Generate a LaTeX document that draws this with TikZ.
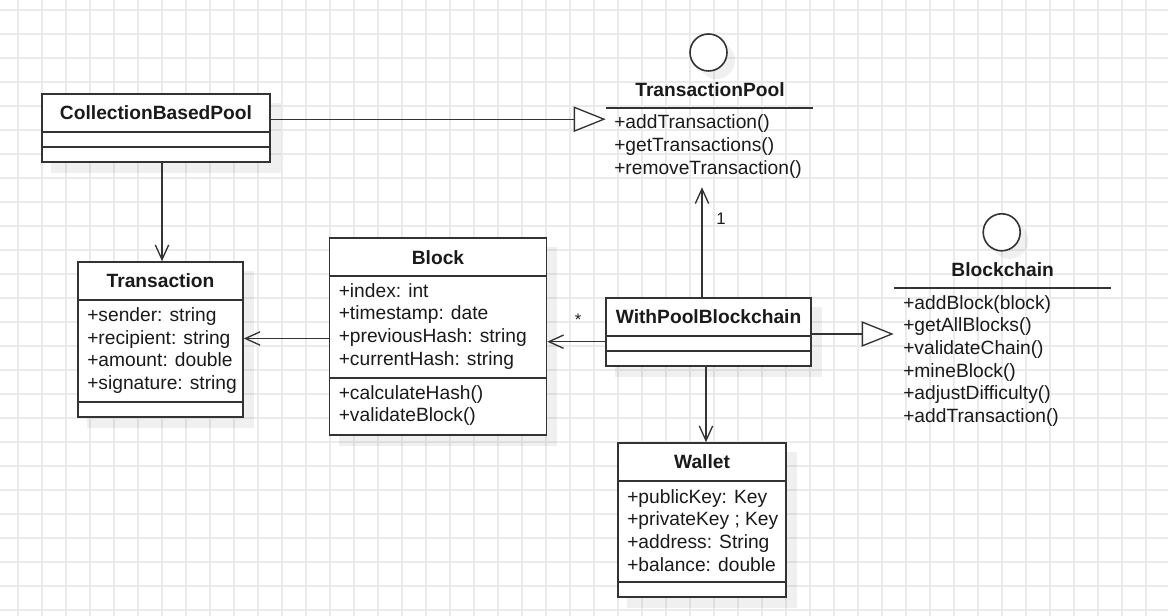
\documentclass[tikz,border=0pt]{standalone}
\usepackage{fontspec}
\setmainfont{Liberation Sans}
\usetikzlibrary{arrows.meta,calc,fit,backgrounds}
\definecolor{gridc}{HTML}{EBEBEB}
\definecolor{linec}{HTML}{333333}
\definecolor{txtc}{HTML}{1A1A1A}
\tikzset{
  cls/.style={draw=linec, line width=1.2pt, fill=white, inner sep=0pt},
  region/.style={inner sep=0pt},
  sep/.style={draw=linec, line width=1.2pt},
  ttl/.style={font=\fontsize{14.4}{17}\selectfont\bfseries, text=txtc, inner sep=0pt},
  attrs/.style={font=\fontsize{14.4}{17}\selectfont, text=txtc, align=left, anchor=west, inner sep=0pt},
  lbl/.style={font=\fontsize{12.5}{15}\selectfont, text=txtc, inner sep=0pt},
  circ/.style={circle, draw=linec, line width=1.2pt, fill=white, minimum size=27.75pt, inner sep=0pt},
  shad/.style={fill=black, opacity=0.06},
  assoc/.style={draw=linec, line width=1pt, -{Straight Barb[length=11pt,width=10pt]}},
  real/.style={draw=linec, line width=1pt, -{Triangle[open,fill=white,length=24pt,width=19pt]}},
}
\begin{document}
\begin{tikzpicture}[x=0.75pt,y=-0.75pt]
\useasboundingbox (0,0) rectangle (1168,616);
% classes
\node[cls, fit={(42,94) (270,162)}] (cbp) {};
\node[cls, fit={(78,262) (243,417)}] (trans) {};
\node[cls, fit={(329.5,238) (546.5,435)}] (block) {};
\node[cls, fit={(606,298) (811,366)}] (wpb) {};
\node[cls, fit={(618,443) (786,597)}] (wallet) {};
% interface regions
\node[region, fit={(606,108) (813,187)}] (tp) {};
\node[region, fit={(894,288) (1111,430)}] (bc) {};
\node[circ] (tpc) at (708.5,52.5) {};
\node[circ] (bcc) at (1001.7,232.3) {};
% background: grid and shadows
\begin{scope}[on background layer]
  \foreach \gx in {18,42,...,1166} \draw[gridc, line width=1pt] (\gx,0) -- (\gx,616);
  \foreach \gy in {10,34,...,614} \draw[gridc, line width=1pt] (0,\gy) -- (1168,\gy);
  \foreach \b in {cbp,trans,block,wpb,wallet}
    \fill[shad] ($(\b.north west)+(10,10)$) rectangle ($(\b.south east)+(10,10)$);
  \fill[shad] (716.5,60.5) circle[radius=13.9pt];
  \fill[shad] (1009.7,240.3) circle[radius=13.9pt];
\end{scope}
% compartment separators
\draw[sep] (cbp.west |- 0,132) -- (cbp.east |- 0,132);
\draw[sep] (cbp.west |- 0,147) -- (cbp.east |- 0,147);
\draw[sep] (trans.west |- 0,300) -- (trans.east |- 0,300);
\draw[sep] (trans.west |- 0,402) -- (trans.east |- 0,402);
\draw[sep] (block.west |- 0,276) -- (block.east |- 0,276);
\draw[sep] (block.west |- 0,378) -- (block.east |- 0,378);
\draw[sep] (wpb.west |- 0,336) -- (wpb.east |- 0,336);
\draw[sep] (wpb.west |- 0,351) -- (wpb.east |- 0,351);
\draw[sep] (wallet.west |- 0,481) -- (wallet.east |- 0,481);
\draw[sep] (wallet.west |- 0,582) -- (wallet.east |- 0,582);
\draw[sep] (tp.north west) -- (tp.north east);
\draw[sep] (bc.north west) -- (bc.north east);
% titles
\node[ttl] (cbpT) at (156,113) {CollectionBasedPool};
\node[ttl] (transT) at (160.5,281) {Transaction};
\node[ttl] (blockT) at (438,257.5) {Block};
\node[ttl] (wpbT) at (708.5,317) {WithPoolBlockchain};
\node[ttl] (walletT) at (702,462) {Wallet};
\node[ttl] (tpT) at (710,90) {TransactionPool};
\node[ttl] (bcT) at (1002.7,270) {Blockchain};
% members
\node[attrs] (transA) at (87,350.7) {+sender: string\\+recipient: string\\+amount: double\\+signature: string};
\node[attrs] (blockA) at (338.5,326.3) {+index: int\\+timestamp: date\\+previousHash: string\\+currentHash: string};
\node[attrs] (blockM) at (338.5,405.5) {+calculateHash()\\+validateBlock()};
\node[attrs] (walletA) at (627,530.3) {+publicKey: Key\\+privateKey ; Key\\+address: String\\+balance: double};
\node[attrs] (tpM) at (614,146.7) {+addTransaction()\\+getTransactions()\\+removeTransaction()};
\node[attrs] (bcM) at (903,360.8) {+addBlock(block)\\+getAllBlocks()\\+validateChain()\\+mineBlock()\\+adjustDifficulty()\\+addTransaction()};
% connectors
\path ($(cbp.north east)+(0,26)$) coordinate (cbpR);
\draw[real] (cbpR) -- (cbpR -| tp.west);
\path ($(cbp.south)+(6,0)$) coordinate (cbpB);
\draw[assoc] (cbpB) -- (cbpB |- trans.north);
\path ($(block.west)+(0,2)$) coordinate (blockL);
\draw[assoc] (blockL) -- (blockL -| trans.east);
\path ($(wpb.west)+(0,9.7)$) coordinate (wpbL);
\draw[assoc] (wpbL) -- (wpbL -| block.east);
\path ($(wpb.north)+(-6.5,0)$) coordinate (wpbTop);
\draw[assoc] (wpbTop) -- (wpbTop |- tp.south);
\path ($(wpb.south)+(-2.5,0)$) coordinate (wpbB);
\draw[assoc] (wpbB) -- (wpbB |- wallet.north);
\path ($(wpb.east)+(0,2)$) coordinate (wpbR);
\draw[real] (wpbR) -- (wpbR -| bc.west);
% multiplicities
\node[lbl] (one) at (721,219) {1};
\node[lbl] (many) at (578,320) {*};
\end{tikzpicture}
\end{document}
